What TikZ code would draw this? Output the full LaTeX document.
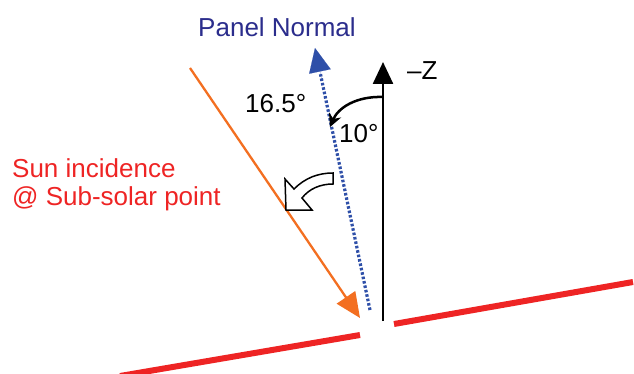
\documentclass[tikz,border=0pt]{standalone}
\usepackage{fontspec}
\setmainfont{Liberation Sans}
\usetikzlibrary{arrows.meta,calc}
\definecolor{sunorange}{HTML}{F36F21}
\definecolor{normalblue}{HTML}{2E4FA8}
\definecolor{labelblue}{HTML}{2B2D8C}
\definecolor{panelred}{HTML}{EE2424}
\definecolor{axisgray}{HTML}{333333}
\begin{document}
\begin{tikzpicture}[x=1pt, y=-1pt, font=\fontsize{26}{28}\selectfont]
    \useasboundingbox (0,0) rectangle (634,374);
    % points
    \coordinate (groundA) at (120,376);
    \coordinate (groundB) at (360,335);
    \coordinate (groundC) at (394,324);
    \coordinate (groundD) at (633,282);
    \coordinate (zfoot) at (383,321);
    \coordinate (ztip) at (383,62);
    \coordinate (nfoot) at (370,310);
    \coordinate (ntip) at (315,48);
    \coordinate (sunstart) at (190,68);
    \coordinate (sunend) at (360,318);
    \coordinate (arcstart) at (383,97);
    \coordinate (arcend) at (330,127);
    % panel
    \draw[panelred, line width=6] (groundA) -- (groundB);
    \draw[panelred, line width=6] (groundC) -- (groundD);
    % -Z axis
    \draw[axisgray, line width=2.5, -{Triangle[length=22,width=20]}, black] (zfoot) -- (ztip);
    % panel normal
    \draw[normalblue, line width=3.2, dash pattern=on 2.6 off 1.9] (nfoot) -- ($(nfoot)!0.9!(ntip)$);
    \draw[normalblue, line width=0.1, -{Triangle[length=24,width=22]}] ($(nfoot)!0.88!(ntip)$) -- (ntip);
    % sun ray
    \draw[sunorange, line width=2.3, -{Triangle[length=25,width=22]}] (sunstart) -- (sunend);
    % 10 deg tilt
    \draw[black, line width=2.5, -{Stealth[length=13,width=13]}] (arcstart) .. controls (356,96) and (338,108) .. (arcend);
    % rotation hint
    \draw[black, line width=1.5, fill=white, line join=miter]
        (286,210) -- (285,179) -- (294,189) .. controls (305,178) and (318,173) .. (333,173)
        -- (333,184) .. controls (320,184) and (309,189) .. (302,198) -- (312,210) -- cycle;
    % labels
    \node[labelblue, anchor=base] (normal) at (277,37) {Panel Normal};
    \node[anchor=base west, inner sep=0] (minusz) at (407,80) {–Z};
    \node[anchor=base west, inner sep=0] (bigangle) at (245,113) {16.5°};
    \node[anchor=base west, inner sep=0] (smallangle) at (339,143) {10°};
    \node[panelred, anchor=base west, inner sep=0, align=left] (sun) at (12,205) {Sun incidence\\@ Sub-solar point};
\end{tikzpicture}
\end{document}
